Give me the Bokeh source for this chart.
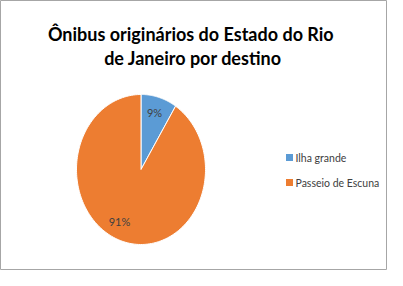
import numpy as np
from bokeh.plotting import figure
from bokeh.models import Range1d
from bokeh.core.properties import value
from bokeh.embed import file_html
from bokeh.resources import INLINE

# ---- data ----
title_lines = ["Ônibus originários do Estado do  Rio", "de Janeiro por destino"]
categories = ["Ilha grande", "Passeio de Escuna"]
shares = [9, 91]
colors = ["#5B9BD5", "#ED7D31"]

# ---- layout constants (pixels, y downwards) ----
W, H = 387, 270
CX, CY, RX, RY = 140.5, 169.0, 64.5, 75.0
LABEL_POS = [(154, 112), (119, 221)]
LEG_X, LEG_Y0, LEG_DY = 289, 157, 25
TITLE_X, TITLE_Y = 192.5, [33, 57]
FONT = "Lato"

p = figure(width=W, height=H, output_backend="svg", toolbar_location=None,
           x_range=Range1d(0, W), y_range=Range1d(H, 0), min_border=0)
p.axis.visible = False
p.grid.visible = False
p.outline_line_color = "#A6A6A6"
p.outline_line_width = 1
p.background_fill_color = "white"
p.border_fill_color = "white"

# pie slices (clockwise from 12 o'clock), drawn as elliptical patches
total = float(sum(shares))
ends = np.cumsum(shares) / total * 2 * np.pi
starts = np.concatenate([[0.0], ends[:-1]])
xs, ys = [], []
for a0, a1 in zip(starts, ends):
    t = np.linspace(a0, a1, 200)
    xs.append(np.concatenate([[CX], CX + RX * np.sin(t), [CX]]))
    ys.append(np.concatenate([[CY], CY - RY * np.cos(t), [CY]]))
p.patches(xs=xs, ys=ys, fill_color=colors, line_color="white", line_width=1)

# percentage labels
p.text(x=[q[0] for q in LABEL_POS], y=[q[1] for q in LABEL_POS],
       text=[f"{round(s / total * 100)}%" for s in shares],
       text_font=value(FONT), text_font_size="11px", text_color="#404040",
       text_align="center", text_baseline="middle")

# title
p.text(x=[TITLE_X] * len(title_lines), y=TITLE_Y, text=title_lines,
       text_font=value(FONT), text_font_style="bold", text_font_size="18px",
       text_color="black", text_align="center", text_baseline="alphabetic")

# legend
ly = [LEG_Y0 + i * LEG_DY for i in range(len(categories))]
p.scatter(x=[LEG_X] * len(categories), y=ly, marker="square", size=7,
          fill_color=colors, line_color=None)
p.text(x=[LEG_X + 6] * len(categories), y=ly, text=categories,
       text_font=value(FONT), text_font_size="10.5px", text_color="#404040",
       text_align="left", text_baseline="middle")

open("out.html", "w").write(file_html(p, INLINE))
